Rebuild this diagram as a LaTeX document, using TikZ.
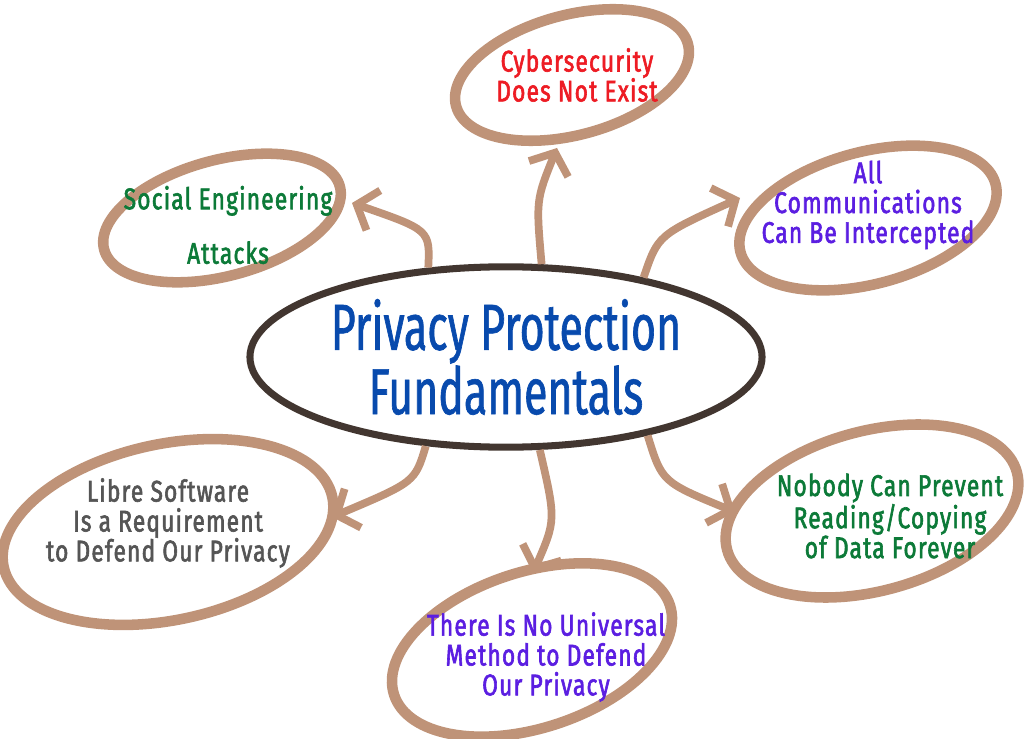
\documentclass[tikz,border=0pt]{standalone}
\usepackage{fontspec}
\newfontfamily\titlefont[FakeStretch=0.66,FakeBold=1]{Fira Sans}
\newfontfamily\topicfont[FakeStretch=0.76,FakeBold=2,LetterSpace=4]{Fira Sans}
\usetikzlibrary{shapes.geometric,arrows.meta}
\definecolor{tan}{RGB}{191,147,120}
\definecolor{darkbrown}{RGB}{66,54,48}
\definecolor{titleblue}{RGB}{8,74,173}
\definecolor{cyberred}{RGB}{237,28,36}
\definecolor{topicgreen}{RGB}{12,122,56}
\definecolor{topicpurple}{RGB}{91,30,225}
\definecolor{topicgray}{RGB}{85,85,85}
\begin{document}
\begin{tikzpicture}[x=0.02cm, y=-0.02cm,
  brush/.style={draw=tan, line width=6pt},
  link/.style={draw=tan, line width=4.4pt, -{Straight Barb[length=10pt,width=24pt]}},
  topic/.style={align=center, font=\topicfont\fontsize{17}{17}\selectfont}]
  \useasboundingbox (0,0) rectangle (1024,739);
  % Centre
  \node[ellipse, draw=darkbrown, line width=4pt, minimum width=10.1cm, minimum height=3.4cm,
    text=titleblue, align=center, font=\titlefont\fontsize{37}{32}\selectfont] (core) at (506,357) {Privacy Protection\\Fundamentals};
  % Ring of topics
  \draw[brush, rotate around={15:(572,75)}] (572,75) ellipse (120 and 60);
  \draw[brush, rotate around={15:(222,218)}] (222,218) ellipse (122 and 58);
  \draw[brush, rotate around={15:(868,218)}] (868,218) ellipse (132 and 66);
  \draw[brush, rotate around={12:(168,532)}] (168,532) ellipse (168 and 88);
  \draw[brush, rotate around={15:(872,511)}] (872,511) ellipse (150 and 80);
  \draw[brush, rotate around={18:(532,650)}] (532,650) ellipse (145 and 78);
  \node[topic, text=cyberred] (cyber) at (577,75) {Cybersecurity\\Does Not Exist};
  \node[topic, text=topicgreen] (social) at (228,225) {Social Engineering\\[14pt]Attacks};
  \node[topic, text=topicpurple] (comms) at (868,205) {All\\Communications\\Can Be Intercepted};
  \node[topic, text=topicgray] (libre) at (168,523) {Libre Software\\Is a Requirement\\to Defend Our Privacy};
  \node[topic, text=topicgreen] (nobody) at (890,516) {Nobody Can Prevent\\Reading/Copying\\of Data Forever};
  \node[topic, text=topicpurple] (method) at (546,657) {There Is No Universal\\Method to Defend\\Our Privacy};
  % Arrows out of the centre
  \coordinate (cyber-tip) at (557,148);
  \coordinate (social-tip) at (352,203);
  \coordinate (comms-tip) at (740,198);
  \coordinate (libre-tip) at (332,517);
  \coordinate (nobody-tip) at (735,512);
  \coordinate (method-tip) at (533,573);
  \draw[link] (core.69) .. controls (536,200) .. (cyber-tip);
  \draw[link] (core.131) .. controls (430,230) .. (social-tip);
  \draw[link] (core.30) .. controls (658,235) .. (comms-tip);
  \draw[link] (core.228) .. controls (415,482) .. (libre-tip);
  \draw[link] (core.-29) .. controls (662,482) .. (nobody-tip);
  \draw[link] (core.-70) .. controls (556,520) .. (method-tip);
\end{tikzpicture}
\end{document}
